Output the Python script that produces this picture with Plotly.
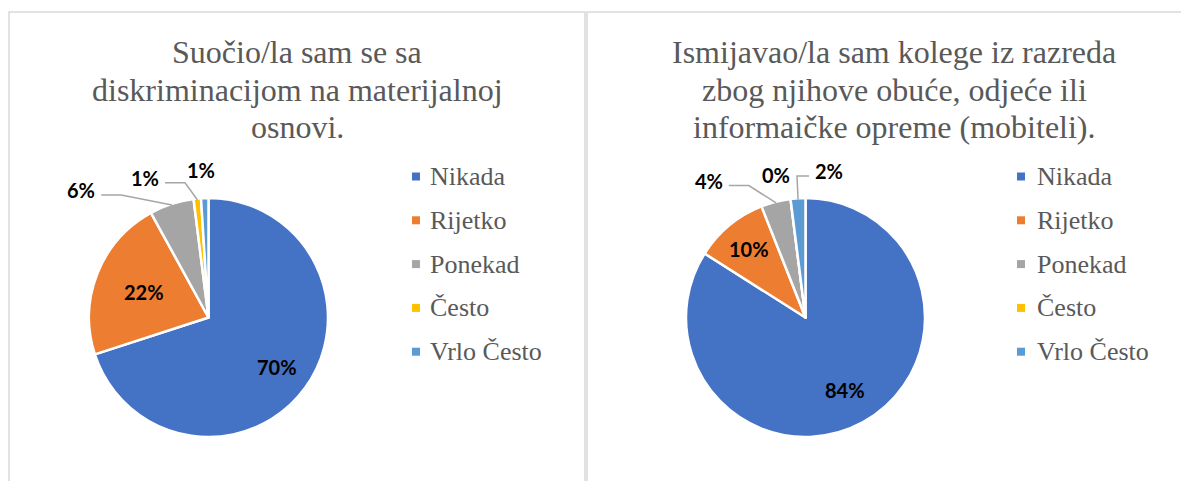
import math
import plotly.graph_objects as go

# ---------------- data ----------------
categories = ["Nikada", "Rijetko", "Ponekad", "Često", "Vrlo Često"]
values_left = [70, 22, 6, 1, 1]
values_right = [84, 10, 4, 0, 2]
title_left = ["Suočio/la sam se sa", "diskriminacijom na materijalnoj", "osnovi."]
title_right = ["Ismijavao/la sam kolege iz razreda", "zbog njihove obuće, odjeće ili",
               "informaičke opreme (mobiteli)."]

# ---------------- style ----------------
W, H = 1189, 481
OFF = 8  # page body margin
colors = ["#4472C4", "#ED7D31", "#A5A5A5", "#FFC000", "#5B9BD5"]
TITLE_FONT = dict(family="Liberation Serif, Times New Roman, serif", size=32, color="#595959")
LEGEND_FONT = dict(family="Liberation Serif, Times New Roman, serif", size=26, color="#595959")
LABEL_FONT = dict(family="Lato, Carlito, Calibri, sans-serif", size=20, color="#000000")
BORDER = "#D9D9D9"

panels = [
    dict(values=values_left, title=title_left, x0=9, x1=585, cx=208.5, cy=317.5, R=119.5,
         leg_sq=412, leg_tx=428,
         inside={0: 0.71, 1: 0.58},
         outside={2: (-83, 9, 1), 3: (-50, 3, 1), 4: (-3, -4, 0)}),
    dict(values=values_right, title=title_right, x0=587, x1=1201, cx=805.5, cy=317.5, R=119.5,
         leg_sq=1017, leg_tx=1035,
         inside={0: 0.69, 1: 0.74},
         outside={2: (-61, 2, 1), 3: (-11.5, 0, 0), 4: (32.5, -3.5, -1)}),
]
TITLE_Y = [52, 90, 127]
LEG_Y0, LEG_STEP = 176.5, 43.8
OUT_FRAC = 1.2


def px(x):
    return (x - OFF) / W


def py(y):
    return 1 - (y - OFF) / H


fig = go.Figure()
shapes = []
annotations = []

for p in panels:
    vals = p["values"]
    total = sum(vals)
    cx, cy, R = p["cx"], p["cy"], p["R"]

    # panel border
    shapes.append(dict(type="rect", xref="paper", yref="paper",
                       x0=px(p["x0"]), x1=px(p["x1"]), y0=py(H + 20), y1=py(12),
                       line=dict(color=BORDER, width=1.5), fillcolor="rgba(0,0,0,0)", layer="below"))

    fig.add_trace(go.Pie(
        labels=categories, values=vals, sort=False, direction="clockwise", rotation=0,
        marker=dict(colors=colors, line=dict(color="white", width=2.5)),
        textinfo="none", hoverinfo="label+percent", showlegend=False,
        domain=dict(x=[px(cx - R), px(cx + R)], y=[py(cy + R), py(cy - R)]),
    ))

    # title lines
    for line, ty in zip(p["title"], TITLE_Y):
        annotations.append(dict(xref="paper", yref="paper", x=px((p["x0"] + p["x1"]) / 2), y=py(ty),
                                text=line, showarrow=False, font=TITLE_FONT,
                                xanchor="center", yanchor="middle", align="center"))

    # data labels
    cum = 0
    for i, v in enumerate(vals):
        mid = (cum + v / 2) / total * 2 * math.pi
        cum += v
        pct = f"{round(v / total * 100)}%"
        s, c = math.sin(mid), math.cos(mid)
        if i in p["outside"]:
            ndx, ndy, side = p["outside"][i]
            lx = cx + s * R * OUT_FRAC + ndx
            ly = cy - c * R * OUT_FRAC + ndy
            if side != 0:
                hw = 7 * len(pct)
                sx = lx + side * (hw + 6)
                sy = ly + 5
                ex = sx + side * 20 if side > 0 else sx - 12
                ax = cx + s * R * 0.99
                ay = cy - c * R * 0.99
                path = f"M {px(sx)},{py(sy)} L {px(ex)},{py(sy)} L {px(ax)},{py(ay)}"
                shapes.append(dict(type="path", xref="paper", yref="paper", path=path,
                                   line=dict(color="#A6A6A6", width=1.5)))
        else:
            f = p["inside"].get(i, 0.68)
            lx = cx + s * R * f
            ly = cy - c * R * f
        annotations.append(dict(xref="paper", yref="paper", x=px(lx), y=py(ly),
                                text=f"<b>{pct}</b>", showarrow=False, font=LABEL_FONT,
                                xanchor="center", yanchor="middle"))

    # legend
    for i, cat in enumerate(categories):
        yy = LEG_Y0 + i * LEG_STEP
        shapes.append(dict(type="rect", xref="paper", yref="paper",
                           x0=px(p["leg_sq"]), x1=px(p["leg_sq"] + 8),
                           y0=py(yy + 4), y1=py(yy - 4),
                           fillcolor=colors[i], line=dict(width=0)))
        annotations.append(dict(xref="paper", yref="paper", x=px(p["leg_tx"]), y=py(yy),
                                text=cat, showarrow=False, font=LEGEND_FONT,
                                xanchor="left", yanchor="middle"))

fig.update_layout(
    width=W, height=H,
    margin=dict(l=0, r=0, t=0, b=0),
    paper_bgcolor="white", plot_bgcolor="white",
    shapes=shapes, annotations=annotations,
    showlegend=False,
)

fig.write_html("out.html")
